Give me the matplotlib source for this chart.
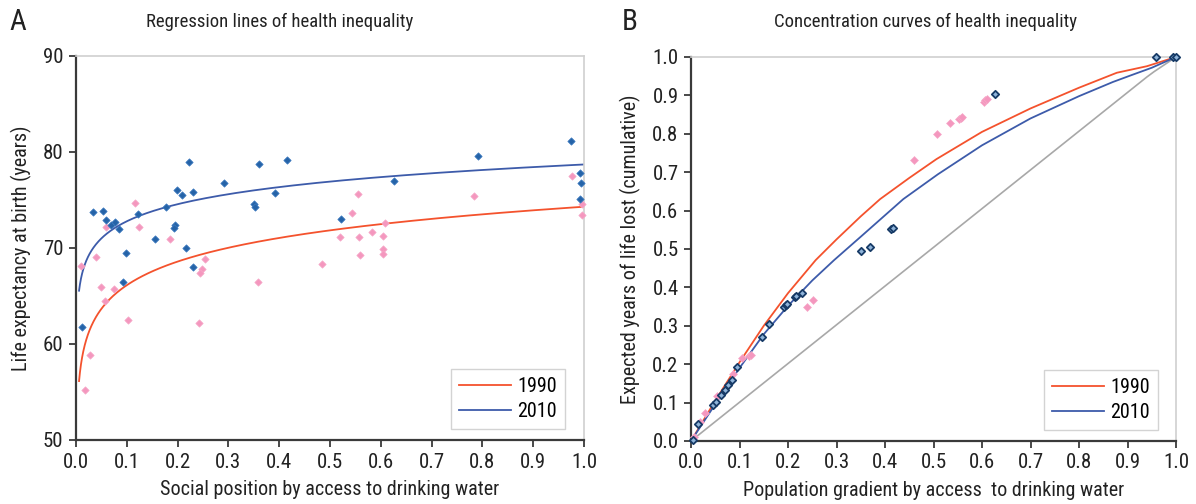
import numpy as np
import matplotlib
matplotlib.use("Agg")
import matplotlib.pyplot as plt
from matplotlib.lines import Line2D

plt.rcParams['font.family'] = ['Roboto Condensed', 'Archivo Narrow', 'DejaVu Sans']

# ---------------- Panel A data ----------------
a_1990_x = [0.0597, 0.1155, 0.1247, 0.1844, 0.0394, 0.0098, 0.0499, 0.0741, 0.0564, 0.1017,
            0.0276, 0.0184, 0.243, 0.2546, 0.2487, 0.2435, 0.3576, 0.4836, 0.5545, 0.5427,
            0.6077, 0.5203, 0.5577, 0.582, 0.6043, 0.605, 0.7835, 0.977, 0.9967, 0.996,
            0.5597, 0.605]
a_1990_y = [72.2, 74.69, 72.2, 70.97, 69.03, 68.1, 65.97, 65.76, 64.48, 62.5,
            58.89, 55.18, 62.15, 68.85, 67.78, 67.36, 66.46, 68.37, 75.63, 73.65,
            72.64, 71.11, 71.15, 71.7, 71.25, 69.9, 75.38, 77.53, 74.6, 73.47,
            69.27, 69.4]

a_2010_x = [0.034, 0.0525, 0.060, 0.0695, 0.0768, 0.0846, 0.123, 0.1555, 0.178, 0.195,
            0.1935, 0.199, 0.208, 0.223, 0.230, 0.217, 0.2907, 0.351, 0.352, 0.361,
            0.392, 0.4154, 0.5217, 0.626, 0.791, 0.974, 0.993, 0.995, 0.992, 0.0984,
            0.230, 0.0932, 0.0125]
a_2010_y = [73.72, 73.85, 72.9, 72.36, 72.7, 72.0, 73.5, 70.9, 74.3, 72.43,
            72.1, 76.04, 75.5, 78.93, 75.83, 70.03, 76.74, 74.55, 74.3, 78.8,
            75.76, 79.13, 73.05, 76.94, 79.62, 81.1, 77.78, 76.74, 75.1, 69.5,
            68.02, 66.49, 61.77]

# logarithmic trendline coefficients: y = intercept + slope * ln(x)
trend_1990 = (74.3, 3.55)
trend_2010 = (78.7, 2.57)
trend_x_range = (0.006, 1.0)

# ---------------- Panel B data ----------------
b_1990_x = [0.006, 0.019, 0.029, 0.054, 0.0866, 0.105, 0.120, 0.123, 0.2398, 0.252,
            0.4605, 0.5066, 0.5334, 0.552, 0.556, 0.5594, 0.6035, 0.6068, 0.6097, 0.9588]
b_1990_y = [0.011, 0.05, 0.073, 0.117, 0.1745, 0.215, 0.222, 0.223, 0.348, 0.366,
            0.732, 0.7986, 0.827, 0.838, 0.841, 0.844, 0.8836, 0.888, 0.890, 1.0]

b_2010_x = [0.0035, 0.015, 0.045, 0.052, 0.062, 0.0694, 0.077, 0.084, 0.0948, 0.1457,
            0.160, 0.1918, 0.195, 0.198, 0.2137, 0.216, 0.229, 0.350, 0.3684, 0.4117,
            0.417, 0.626, 0.9588, 0.9945, 1.0]
b_2010_y = [0.003, 0.045, 0.093, 0.1015, 0.12, 0.133, 0.147, 0.159, 0.192, 0.271,
            0.304, 0.349, 0.354, 0.357, 0.375, 0.3776, 0.386, 0.4956, 0.504, 0.553,
            0.5547, 0.904, 1.0, 1.0, 1.0]

curve_1990_x = [0, 0.05, 0.1, 0.15, 0.2, 0.257, 0.3, 0.35, 0.39, 0.45, 0.506, 0.6, 0.7, 0.8, 0.878, 0.94, 1.0]
curve_1990_y = [0, 0.105, 0.205, 0.30, 0.385, 0.471, 0.525, 0.585, 0.630, 0.685, 0.734, 0.805, 0.866, 0.920, 0.959, 0.976, 1.0]
curve_2010_x = [0, 0.05, 0.1, 0.15, 0.2, 0.25, 0.295, 0.35, 0.4378, 0.509, 0.6, 0.7, 0.8, 0.87, 0.9086, 0.95, 1.0]
curve_2010_y = [0, 0.096, 0.19, 0.278, 0.352, 0.418, 0.471, 0.532, 0.630, 0.6945, 0.77, 0.84, 0.898, 0.935, 0.953, 0.972, 1.0]
equality_x = [0, 0.94, 0.955, 1.0]
equality_y = [0, 0.948, 0.962, 1.0]

years = ["1990", "2010"]

RED = "#F4522D"
BLUE = "#3D5BAA"
PINK = "#F497BE"
DBLUE = "#2563A8"
NAVY = "#163A66"
LIGHTB = "#8FB4DA"
GRAY = "#A8A8A8"
DARK = "#3A3A3A"
TXT = "#222222"

fig = plt.figure(figsize=(11.96, 5.04), dpi=100)
axA = fig.add_axes([76/1196, 1-440/504, 508/1196, 384/504])
axB = fig.add_axes([691/1196, 1-441/504, 485/1196, 384/504])


def style(ax):
    for s in ("top", "right"):
        ax.spines[s].set_color("#D0D0D0")
        ax.spines[s].set_linewidth(1.2)
    for s in ("left", "bottom"):
        ax.spines[s].set_color(DARK)
        ax.spines[s].set_linewidth(1.6)
    ax.tick_params(direction="out", length=5, width=1.3, color=DARK,
                   labelsize=15, labelcolor=TXT, pad=4)
    ax.set_xlim(0, 1)
    ax.set_xticks(np.arange(0, 1.01, 0.1))
    ax.set_xticklabels([f"{v:.1f}" for v in np.arange(0, 1.01, 0.1)])


def legend(ax, handles):
    leg = ax.legend(handles, years, loc="lower right", bbox_to_anchor=(0.963, 0.028),
                    fontsize=14.5, frameon=True, fancybox=False, edgecolor="#C8C8C8",
                    handlelength=2.6, borderpad=0.4, labelspacing=0.3, handletextpad=0.3,
                    borderaxespad=0)
    leg.get_frame().set_linewidth(1.0)
    return leg


handles = [Line2D([], [], color=RED, lw=1.3), Line2D([], [], color=BLUE, lw=1.3)]

# Panel A
style(axA)
axA.set_ylim(50, 90)
axA.set_yticks([50, 60, 70, 80, 90])
tx = np.geomspace(trend_x_range[0], trend_x_range[1], 200)
axA.plot(tx, trend_1990[0] + trend_1990[1]*np.log(tx), color=RED, lw=1.3, zorder=2)
axA.plot(tx, trend_2010[0] + trend_2010[1]*np.log(tx), color=BLUE, lw=1.3, zorder=2)
axA.scatter(a_1990_x, a_1990_y, marker="D", s=14, color=PINK, edgecolor="#F6A9C8",
            linewidth=0.5, zorder=3, clip_on=False)
axA.scatter(a_2010_x, a_2010_y, marker="D", s=14, color=DBLUE, edgecolor="#3C7AC0",
            linewidth=0.5, zorder=4, clip_on=False)
axA.set_xlabel("Social position by access to drinking water", fontsize=14.5, color=TXT, labelpad=6)
axA.set_ylabel("Life expectancy at birth (years)", fontsize=14.5, color=TXT, labelpad=8)
legend(axA, handles)

# Panel B
style(axB)
axB.set_ylim(0, 1)
axB.set_yticks(np.arange(0, 1.01, 0.1))
axB.set_yticklabels([f"{v:.1f}" for v in np.arange(0, 1.01, 0.1)])
axB.plot(equality_x, equality_y, color=GRAY, lw=1.2, zorder=1)
axB.plot(curve_1990_x, curve_1990_y, color=RED, lw=1.3, zorder=2)
axB.plot(curve_2010_x, curve_2010_y, color=BLUE, lw=1.3, zorder=2)
axB.scatter(b_1990_x, b_1990_y, marker="D", s=16, color=PINK, edgecolor="#F6A9C8",
            linewidth=0.5, zorder=3, clip_on=False)
axB.scatter(b_2010_x, b_2010_y, marker="D", s=14, color=LIGHTB, edgecolor=NAVY,
            linewidth=1.3, zorder=4, clip_on=False)
axB.set_xlabel("Population gradient by access  to drinking water", fontsize=14.5, color=TXT, labelpad=6)
axB.set_ylabel("Expected years of life lost (cumulative)", fontsize=14.5, color=TXT, labelpad=8)
legend(axB, handles)

# Titles and panel letters
fig.text(280/1196, 1-22/504, "Regression lines of health inequality", ha="center", va="center",
         fontsize=13.5, color=TXT)
fig.text(926/1196, 1-22/504, "Concentration curves of health inequality", ha="center", va="center",
         fontsize=13.5, color=TXT)
fig.text(18/1196, 1-22/504, "A", ha="center", va="center", fontsize=21, color=TXT)
fig.text(630/1196, 1-22/504, "B", ha="center", va="center", fontsize=21, color=TXT)

fig.savefig("out.png", dpi=100, facecolor="white")
